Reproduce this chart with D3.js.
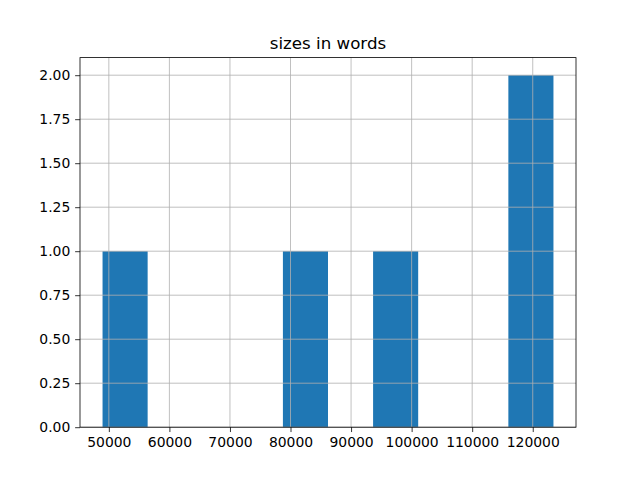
<!DOCTYPE html>
<html>
<head>
<meta charset="utf-8">
<script src="https://cdn.jsdelivr.net/npm/d3@7"></script>
<style>
  body { margin: 0; background: #fff; }
  text { font-family: "DejaVu Sans", sans-serif; fill: #000; }
</style>
</head>
<body>
<svg id="chart" width="640" height="480"></svg>
<script>
// book sizes in words
var sizes = [48960, 82000, 97000, 119500, 123420];
var binCount = 10;
var xTicks = [50000, 60000, 70000, 80000, 90000, 100000, 110000, 120000];
var yTicks = [0, 0.25, 0.5, 0.75, 1, 1.25, 1.5, 1.75, 2];
var title = "sizes in words";

var svg = d3.select("#chart"),
    margin = {left: 80, right: 64, top: 57.6, bottom: 52.8},
    width = 640 - margin.left - margin.right,
    height = 480 - margin.top - margin.bottom;

var g = svg.append("g")
    .attr("transform", "translate(" + margin.left + "," + margin.top + ")");

var ext = d3.extent(sizes),
    step = (ext[1] - ext[0]) / binCount,
    thresholds = d3.range(1, binCount).map(function(i) { return ext[0] + i * step; });

var bins = d3.bin()
    .domain(ext)
    .thresholds(thresholds)(sizes);

var pad = (ext[1] - ext[0]) * 0.05;
var x = d3.scaleLinear()
    .domain([ext[0] - pad, ext[1] + pad])
    .range([0, width]);

var maxCount = d3.max(bins, function(b) { return b.length; });
var y = d3.scaleLinear()
    .domain([0, maxCount * 1.05])
    .range([height, 0]);

// bars
g.selectAll("rect.bar")
    .data(bins.filter(function(b) { return b.length > 0; }))
    .enter().append("rect")
    .attr("class", "bar")
    .attr("x", function(d) { return x(d.x0); })
    .attr("width", function(d) { return x(d.x1) - x(d.x0); })
    .attr("y", function(d) { return y(d.length); })
    .attr("height", function(d) { return height - y(d.length); })
    .attr("fill", "#1f77b4");

// grid on top of bars, like pandas hist
g.selectAll("line.vgrid")
    .data(xTicks)
    .enter().append("line")
    .attr("x1", function(d) { return x(d); })
    .attr("x2", function(d) { return x(d); })
    .attr("y1", 0).attr("y2", height)
    .attr("stroke", "#b0b0b0").attr("stroke-width", 0.8);

g.selectAll("line.hgrid")
    .data(yTicks)
    .enter().append("line")
    .attr("y1", function(d) { return y(d); })
    .attr("y2", function(d) { return y(d); })
    .attr("x1", 0).attr("x2", width)
    .attr("stroke", "#b0b0b0").attr("stroke-width", 0.8);

var xAxis = g.append("g")
    .attr("transform", "translate(0," + height + ")")
    .call(d3.axisBottom(x).tickValues(xTicks).tickFormat(d3.format("d"))
        .tickSizeInner(4.86).tickSizeOuter(0).tickPadding(4.86));

var yAxis = g.append("g")
    .call(d3.axisLeft(y).tickValues(yTicks).tickFormat(d3.format(".2f"))
        .tickSizeInner(4.86).tickSizeOuter(0).tickPadding(4.86));

[xAxis, yAxis].forEach(function(a) {
    a.select(".domain").remove();
    a.selectAll("line").attr("stroke", "#000").attr("stroke-width", 0.8);
    a.selectAll("text").attr("font-size", "13.9px")
        .attr("font-family", "DejaVu Sans, sans-serif").attr("fill", "#000");
});

// spines
g.append("rect")
    .attr("x", 0).attr("y", 0)
    .attr("width", width).attr("height", height)
    .attr("fill", "none").attr("stroke", "#000").attr("stroke-width", 0.8);

svg.append("text")
    .attr("x", margin.left + width / 2)
    .attr("y", margin.top - 8.3)
    .attr("text-anchor", "middle")
    .attr("font-size", "16.67px")
    .text(title);
</script>
</body>
</html>
